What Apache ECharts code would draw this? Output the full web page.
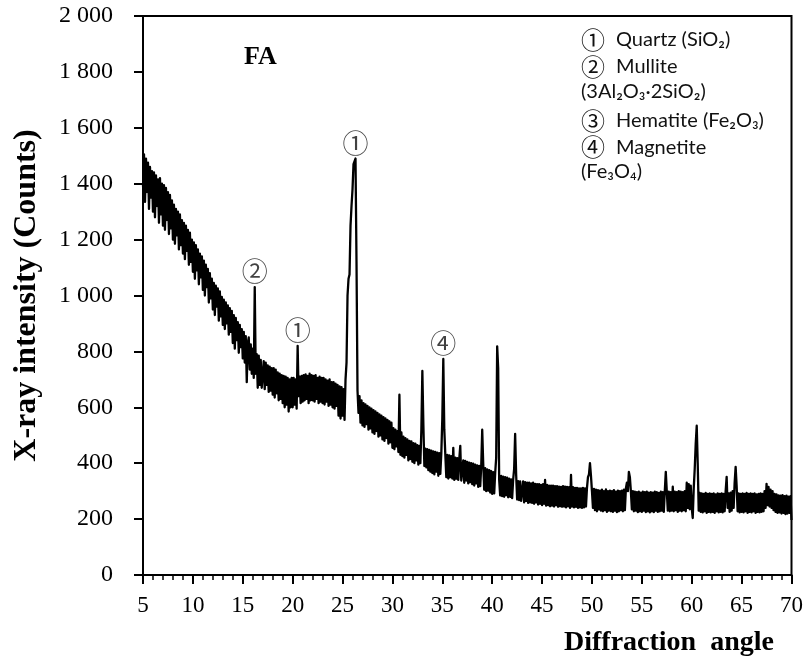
<!DOCTYPE html>
<html>
<head>
<meta charset="utf-8">
<script src="https://cdn.jsdelivr.net/npm/echarts@6/dist/echarts.min.js"></script>
<style>
  html, body { margin: 0; padding: 0; background: #fff; }
  #chart { width: 806px; height: 662px; }
</style>
</head>
<body>
<div id="chart"></div>
<script>
// XRD scan of fly ash (FA): start angle, step, and counts per step
const startAngle = 5.0;
const stepAngle = 0.1;
const counts = [
  // 5°
  1390, 1505, 1335, 1490, 1370, 1475, 1310, 1460, 1350, 1445,
  // 6°
  1300, 1440, 1280, 1430, 1320, 1415, 1260, 1420, 1290, 1400,
  // 7°
  1250, 1395, 1235, 1385, 1270, 1370, 1220, 1360, 1240, 1340,
  // 8°
  1200, 1325, 1185, 1310, 1215, 1300, 1165, 1290, 1180, 1270,
  // 9°
  1150, 1260, 1130, 1250, 1160, 1235, 1110, 1225, 1120, 1200,
  // 10°
  1085, 1190, 1060, 1180, 1090, 1165, 1040, 1150, 1065, 1140,
  // 11°
  1020, 1125, 1000, 1110, 1030, 1095, 975, 1080, 990, 1060,
  // 12°
  950, 1045, 930, 1035, 960, 1025, 910, 1015, 925, 995,
  // 13°
  895, 985, 880, 975, 900, 965, 860, 955, 870, 945,
  // 14°
  830, 930, 810, 920, 840, 905, 795, 895, 815, 880,
  // 15°
  775, 870, 760, 855, 690, 830, 850, 735, 825, 720,
  // 16°
  810, 705, 1030, 720, 790, 670, 785, 680, 770, 670,
  // 17°
  675, 765, 665, 760, 680, 750, 655, 745, 660, 740,
  // 18°
  645, 740, 635, 735, 650, 725, 625, 720, 630, 715,
  // 19°
  615, 712, 600, 710, 610, 705, 585, 700, 600, 705,
  // 20°
  600, 705, 610, 700, 595, 820, 640, 710, 615, 712,
  // 21°
  620, 715, 625, 718, 630, 712, 615, 720, 625, 715,
  // 22°
  625, 712, 620, 715, 630, 705, 615, 710, 620, 705,
  // 23°
  615, 705, 610, 700, 620, 695, 605, 700, 610, 690,
  // 24°
  600, 690, 595, 685, 605, 680, 570, 675, 560, 672,
  // 25°
  570, 665, 555, 700, 760, 1000, 1060, 1075, 1250, 1320,
  // 26°
  1380, 1470, 1480, 1490, 1120, 660, 580, 640, 545, 625,
  // 27°
  535, 615, 530, 610, 540, 605, 520, 600, 525, 595,
  // 28°
  510, 590, 505, 585, 515, 580, 495, 575, 500, 570,
  // 29°
  485, 565, 480, 560, 490, 555, 470, 550, 475, 545,
  // 30°
  455, 525, 450, 520, 460, 515, 440, 645, 430, 510,
  // 31°
  425, 495, 420, 490, 430, 485, 410, 480, 415, 478,
  // 32°
  405, 472, 400, 470, 410, 465, 395, 462, 400, 520,
  // 33°
  730, 540, 390, 452, 385, 450, 375, 448, 370, 445,
  // 34°
  365, 442, 360, 440, 370, 438, 355, 436, 362, 435,
  // 35°
  560, 773, 520, 432, 350, 430, 345, 428, 350, 425,
  // 36°
  345, 455, 340, 420, 345, 418, 340, 415, 462, 338,
  // 37°
  335, 410, 330, 408, 338, 405, 328, 402, 332, 400,
  // 38°
  325, 398, 320, 395, 328, 392, 315, 390, 318, 388,
  // 39°
  520, 400, 305, 382, 300, 378, 302, 375, 295, 372,
  // 40°
  290, 368, 292, 365, 420, 818, 740, 340, 285, 355,
  // 41°
  282, 352, 280, 350, 286, 348, 278, 345, 280, 342,
  // 42°
  275, 340, 380, 505, 360, 270, 336, 268, 335, 265,
  // 43°
  262, 335, 260, 332, 265, 330, 258, 330, 260, 328,
  // 44°
  258, 330, 255, 326, 260, 325, 252, 325, 255, 322,
  // 45°
  250, 325, 255, 340, 248, 322, 250, 320, 246, 320,
  // 46°
  248, 320, 245, 318, 250, 318, 244, 316, 246, 315,
  // 47°
  244, 318, 245, 316, 242, 315, 246, 314, 240, 358,
  // 48°
  245, 314, 242, 312, 244, 312, 240, 310, 242, 310,
  // 49°
  240, 312, 242, 310, 245, 312, 350, 360, 400, 355,
  // 50°
  300, 240, 308, 232, 305, 228, 304, 235, 302, 230,
  // 51°
  305, 228, 300, 232, 306, 226, 300, 230, 302, 228,
  // 52°
  300, 226, 304, 230, 298, 225, 302, 228, 300, 232,
  // 53°
  302, 228, 305, 232, 310, 330, 300, 369, 350, 300,
  // 54°
  235, 300, 228, 298, 230, 296, 225, 298, 228, 295,
  // 55°
  226, 298, 230, 296, 225, 298, 228, 295, 224, 296,
  // 56°
  228, 295, 225, 298, 230, 296, 226, 294, 228, 298,
  // 57°
  230, 296, 226, 300, 369, 300, 230, 298, 228, 296,
  // 58°
  230, 316, 228, 298, 232, 296, 226, 300, 230, 298,
  // 59°
  228, 296, 232, 300, 228, 330, 240, 325, 235, 320,
  // 60°
  240, 204, 310, 380, 470, 534, 400, 230, 294, 226,
  // 61°
  292, 224, 290, 228, 294, 222, 290, 226, 292, 224,
  // 62°
  290, 226, 292, 222, 288, 228, 292, 224, 290, 226,
  // 63°
  292, 224, 290, 228, 300, 351, 240, 292, 226, 295,
  // 64°
  230, 300, 240, 330, 387, 320, 228, 292, 224, 290,
  // 65°
  226, 292, 224, 290, 228, 294, 222, 290, 226, 292,
  // 66°
  224, 290, 228, 292, 222, 288, 226, 290, 224, 292,
  // 67°
  226, 290, 228, 300, 240, 326, 250, 315, 245, 305,
  // 68°
  240, 300, 232, 290, 226, 288, 222, 285, 224, 284,
  // 69°
  220, 286, 222, 282, 218, 284, 220, 280, 222, 282,
  // 70°
  197
];

// Phase tags placed over the identified reflections
const peakAngles = [16.2, 20.5, 26.3, 35.1];
const peakTags = ['②', '①', '①', '④'];

// Phase key
const keyLines = [
  { tag: '①', text: 'Quartz (SiO₂)' },
  { tag: '②', text: 'Mullite' },
  { tag: '', text: '(3Al₂O₃·2SiO₂)' },
  { tag: '③', text: 'Hematite (Fe₂O₃)' },
  { tag: '④', text: 'Magnetite' },
  { tag: '', text: '(Fe₃O₄)' }
];

const serif = '"Liberation Serif", "Times New Roman", serif';
const sans = 'Lato, "Open Sans", sans-serif';
const circ = '"Noto Sans CJK JP", "DejaVu Sans", sans-serif';

const pattern = counts.map((c, i) => [+(startAngle + i * stepAngle).toFixed(1), c]);
const tagPoints = peakAngles.map((a, k) => {
  const idx = Math.round((a - startAngle) / stepAngle);
  return { value: [a, counts[idx]], tag: peakTags[k] };
});

function thousands(v) {
  if (v < 1000) return String(v);
  const r = v % 1000;
  return Math.floor(v / 1000) + ' ' + String(r).padStart(3, '0');
}

const chart = echarts.init(document.getElementById('chart'), null, { renderer: 'canvas' });

const keyGraphics = keyLines.map((ln, i) => ({
  type: 'text',
  left: 581,
  top: 28 + i * 26.8,
  style: {
    text: ln.tag ? '{c|' + ln.tag + '}{t|' + ln.text + '}' : '{t|' + ln.text + '}',
    rich: {
      c: { fontFamily: circ, fontSize: 24, width: 35, fill: '#111' },
      t: { fontFamily: sans, fontSize: 20, fill: '#111' }
    },
    verticalAlign: 'middle'
  }
}));

chart.setOption({
  animation: false,
  backgroundColor: '#fff',
  grid: {
    left: 143, right: 14.5, top: 16, bottom: 87,
    containLabel: false,
    outerBoundsMode: 'none',
    show: true,
    borderColor: '#000',
    borderWidth: 2,
    backgroundColor: 'transparent'
  },
  xAxis: {
    type: 'value',
    min: 5, max: 70, interval: 5,
    axisLine: { show: true, onZero: false, lineStyle: { color: '#000', width: 2 } },
    axisTick: { show: true, inside: false, length: 9, lineStyle: { color: '#000', width: 2 } },
    minorTick: { show: true, splitNumber: 5, length: 5, lineStyle: { color: '#000', width: 1.5 } },
    splitLine: { show: false },
    minorSplitLine: { show: false },
    axisLabel: { color: '#000', fontFamily: serif, fontSize: 23, margin: 19 }
  },
  yAxis: {
    type: 'value',
    min: 0, max: 2000, interval: 200,
    name: 'X-ray intensity (Counts)',
    nameLocation: 'middle',
    nameGap: 100,
    nameTextStyle: { color: '#000', fontFamily: serif, fontSize: 32, fontWeight: 'bold' },
    axisLine: { show: true, lineStyle: { color: '#000', width: 2 } },
    axisTick: { show: true, inside: false, length: 9, lineStyle: { color: '#000', width: 2 } },
    splitLine: { show: false },
    axisLabel: { color: '#000', fontFamily: serif, fontSize: 24, margin: 30, formatter: thousands }
  },
  series: [
    {
      type: 'line',
      data: pattern,
      showSymbol: false,
      symbol: 'none',
      sampling: null,
      lineStyle: { color: '#000', width: 2.3, join: 'round' },
      z: 3
    },
    {
      type: 'scatter',
      data: tagPoints,
      symbolSize: 1,
      itemStyle: { color: 'rgba(0,0,0,0)' },
      label: {
        show: true,
        position: 'top',
        distance: 2,
        formatter: p => p.data.tag,
        fontFamily: circ,
        fontSize: 26,
        color: '#111'
      },
      z: 4
    }
  ],
  graphic: [
    {
      type: 'text', left: 244, top: 44,
      style: { text: 'FA', fontFamily: serif, fontSize: 26, fontWeight: 'bold', fill: '#000' }
    },
    {
      type: 'text', left: 564, top: 629,
      style: { text: 'Diffraction  angle', fontFamily: serif, fontSize: 28, fontWeight: 'bold', fill: '#000' }
    }
  ].concat(keyGraphics)
});
</script>
</body>
</html>
